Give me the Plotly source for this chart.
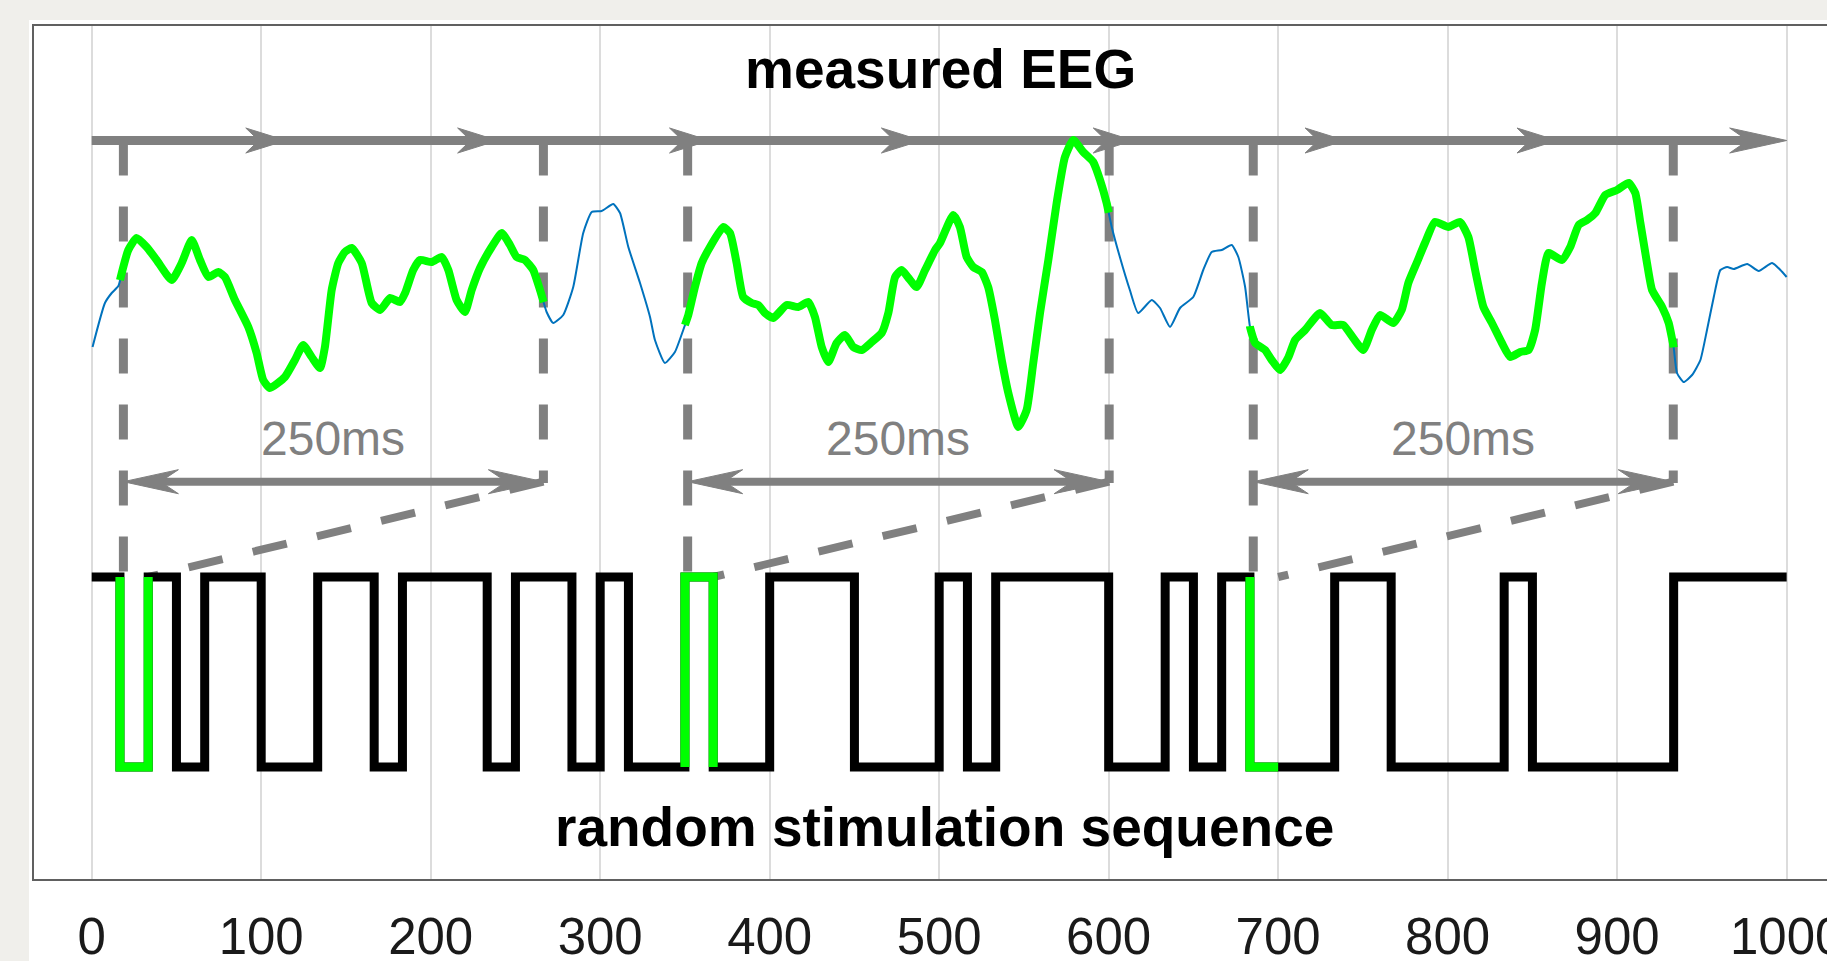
import numpy as np
import plotly.graph_objects as go

# ---------------- data ----------------
FRAME_MS = 1000 / 60  # one stimulation frame (60 Hz)

# random binary stimulation sequence, one value per frame (1 = high, 0 = low)
stim_frames = [1, 0, 1, 0, 1, 1, 0, 0, 1, 1,
               0, 1, 1, 1, 0, 1, 1, 0, 1, 0,
               0, 1, 0, 0, 1, 1, 1, 0, 0, 0,
               1, 0, 1, 1, 1, 1, 0, 0, 1, 0,
               1, 0, 0, 0, 1, 1, 0, 0, 0, 0,
               1, 0, 0, 0, 0, 0, 1, 1, 1, 1]

# measured EEG trace (time in ms, amplitude in arbitrary units)
eeg_t = [0.5, 7.8, 11.8, 15.7, 21.6, 26.5, 32.4, 38.3, 47.2, 53.1,
         59.0, 63.9, 68.8, 74.7, 78.6, 84.5, 92.4, 97.3, 101.2, 105.2,
         114.0, 119.9, 124.8, 129.8, 134.7, 137.6, 141.6, 145.5, 149.4, 153.4,
         159.3, 165.2, 170.2, 176.1, 181.9, 184.9, 189.7, 193.7, 200.6, 206.5,
         210.4, 215.3, 220.2, 224.2, 229.1, 236.0, 241.9, 246.8, 250.7, 255.6,
         260.5, 264.5, 268.4, 272.3, 278.2, 284.1, 290.0, 295.0, 300.9, 307.7,
         311.7, 316.6, 323.5, 329.4, 332.3, 338.2, 344.1, 349.0, 352.0, 355.9,
         359.9, 364.8, 372.6, 376.6, 380.5, 384.4, 389.4, 393.3, 397.2, 402.1,
         410.0, 416.9, 422.8, 426.7, 430.7, 434.6, 439.5, 444.4, 449.3, 454.3,
         460.2, 466.1, 470.0, 474.0, 477.9, 481.9, 486.7, 491.7, 497.6, 500.5,
         508.3, 512.2, 516.2, 520.1, 525.1, 528.9, 532.9, 536.9, 540.8, 546.7,
         551.6, 555.5, 559.5, 564.4, 569.3, 574.2, 579.1, 585.0, 590.9, 594.9,
         598.8, 601.8, 606.6, 612.5, 617.4, 625.4, 630.3, 636.2, 642.1, 649.9,
         655.8, 660.8, 666.7, 672.6, 676.5, 680.5, 683.4, 686.4, 692.3, 696.2,
         701.2, 706.1, 710.0, 715.9, 724.7, 731.6, 738.4, 744.3, 750.2, 755.2,
         760.1, 767.9, 772.9, 776.8, 781.7, 786.6, 792.5, 800.4, 807.3, 812.2,
         816.2, 821.1, 826.1, 832.0, 836.9, 842.8, 847.7, 851.6, 855.6, 859.5,
         867.4, 872.3, 877.3, 882.2, 887.1, 893.0, 899.9, 906.8, 910.7, 913.7,
         917.6, 920.6, 926.5, 930.4, 933.3, 935.3, 939.2, 944.2, 949.1, 953.0,
         957.0, 960.9, 964.9, 968.8, 976.7, 983.5, 991.4, 996.3, 1000.0]
eeg_v = [53.2, 57.6, 58.6, 59.3, 62.9, 64.1, 63.2, 61.9, 59.9, 61.6,
         63.9, 61.9, 60.2, 60.7, 60.2, 57.9, 55.2, 52.6, 49.9, 49.1,
         50.2, 51.9, 53.4, 52.2, 51.1, 53.2, 58.9, 61.6, 62.7, 63.1,
         61.6, 57.6, 56.9, 58.1, 57.7, 58.6, 60.9, 61.9, 61.7, 62.2,
         60.9, 57.9, 56.7, 58.9, 61.1, 63.2, 64.6, 63.4, 62.2, 61.9,
         60.9, 58.9, 56.7, 55.6, 56.4, 59.2, 64.6, 66.7, 66.8, 67.5,
         66.6, 63.2, 59.6, 56.2, 53.9, 51.6, 52.7, 54.9, 56.4, 59.2,
         61.6, 63.2, 65.2, 64.6, 61.6, 58.2, 57.6, 57.4, 56.6, 56.1,
         57.4, 57.2, 57.7, 56.2, 53.2, 51.7, 53.6, 54.4, 53.2, 52.9,
         53.7, 54.6, 56.6, 60.2, 60.9, 60.1, 59.2, 60.9, 62.9, 63.6,
         66.4, 65.2, 62.2, 61.2, 60.7, 59.2, 55.9, 51.9, 48.6, 45.2,
         46.9, 51.6, 56.6, 61.9, 67.6, 72.2, 73.9, 72.7, 71.7, 69.9,
         67.6, 65.2, 62.2, 58.9, 56.6, 57.9, 57.1, 55.2, 57.1, 58.2,
         60.9, 62.7, 62.9, 63.4, 62.2, 59.2, 55.2, 53.6, 52.9, 51.9,
         50.9, 52.2, 53.9, 54.9, 56.6, 55.4, 55.4, 54.1, 52.9, 54.9,
         56.4, 55.6, 56.9, 59.6, 61.6, 63.6, 65.7, 65.2, 65.7, 64.2,
         60.9, 57.2, 55.6, 53.6, 52.2, 52.7, 52.9, 54.9, 59.6, 62.6,
         61.9, 63.2, 65.4, 65.9, 66.6, 68.4, 68.9, 69.6, 68.6, 65.6,
         61.6, 58.9, 57.2, 55.6, 53.2, 50.6, 49.7, 50.4, 51.9, 54.9,
         58.2, 60.9, 61.2, 61.0, 61.5, 60.8, 61.6, 60.9, 60.2]

window_frames = [1, 21, 41]        # frame index where each 250 ms window starts
window_len_ms = 250
marker_starts = [18.7, 351.6, 685.3]   # dashed window-start markers (ms)
marker_ends = [266.5, 600.3, 933.1]    # dashed window-end markers (ms)
arrow_tips = [114.5, 239.5, 364.5, 489.5, 614.5, 739.5, 864.5]
arrow_end = 1000.0
x_ticks = list(range(0, 1001, 100))

title_top = "measured EEG"
title_bottom = "random stimulation sequence"
span_label = "250ms"

# ---------------- geometry / style ----------------
W, H = 1827, 961
ML, MR, MT, MB = 34, 0, 26, 82
X_RANGE = [-34.04, 1023.8]
Y_RANGE = [0.0, 85.3]
PX_X = (W - ML - MR) / (X_RANGE[1] - X_RANGE[0])
PX_Y = (H - MT - MB) / (Y_RANGE[1] - Y_RANGE[0])

LEVEL_HIGH = 30.2
LEVEL_LOW = 11.2
TOP_ARROW_Y = 73.85
SPAN_ARROW_Y = 39.73
END_MARK_BOTTOM = 39.6

GRAY = "#808080"
GREEN = "#00ff00"
BLUE = "#0072bd"
PAGE_BG = "#f0efeb"
FONT = "Liberation Sans, Arial, sans-serif"


def level(v):
    return LEVEL_HIGH if v else LEVEL_LOW


def head(xt, yt, d, L, Wd, notch):
    """arrowhead polygon (sizes in px) converted to data units"""
    xs = [xt, xt - d * L / PX_X, xt - d * (L - notch) / PX_X, xt - d * L / PX_X, xt, None]
    ys = [yt, yt + Wd / PX_Y, yt, yt - Wd / PX_Y, yt, None]
    return xs, ys


fig = go.Figure()

# --- top time arrow ---
fig.add_trace(go.Scatter(x=[0, arrow_end - 20 / PX_X], y=[TOP_ARROW_Y, TOP_ARROW_Y],
                         mode="lines", line=dict(color=GRAY, width=9), hoverinfo="skip"))
hx, hy = [], []
for t in arrow_tips:
    a, b = head(t, TOP_ARROW_Y, 1, 40, 12.5, 13)
    hx += a
    hy += b
a, b = head(arrow_end, TOP_ARROW_Y, 1, 57, 12.5, 18)
hx += a
hy += b
fig.add_trace(go.Scatter(x=hx, y=hy, mode="lines", fill="toself", fillcolor=GRAY,
                         line=dict(color=GRAY, width=1), hoverinfo="skip"))

# --- dashed window markers ---
for xs in marker_starts:
    fig.add_trace(go.Scatter(x=[xs, xs], y=[TOP_ARROW_Y, LEVEL_HIGH], mode="lines",
                             line=dict(color=GRAY, width=9, dash="35px,31px"), hoverinfo="skip"))
for xe in marker_ends:
    fig.add_trace(go.Scatter(x=[xe, xe], y=[TOP_ARROW_Y, END_MARK_BOTTOM], mode="lines",
                             line=dict(color=GRAY, width=9, dash="35px,31px"), hoverinfo="skip"))

# --- diagonal dashed links and 250 ms span arrows ---
bx, by = [], []
for k, xs, xe in zip(window_frames, marker_starts, marker_ends):
    x_stim_end = (k + 1) * FRAME_MS
    fig.add_trace(go.Scatter(x=[xe, x_stim_end], y=[SPAN_ARROW_Y, LEVEL_HIGH], mode="lines",
                             line=dict(color=GRAY, width=8, dash="35px,31px"), hoverinfo="skip"))
    fig.add_trace(go.Scatter(x=[xs + 20 / PX_X, xe - 20 / PX_X], y=[SPAN_ARROW_Y, SPAN_ARROW_Y],
                             mode="lines", line=dict(color=GRAY, width=8), hoverinfo="skip"))
    a, b = head(xs, SPAN_ARROW_Y, -1, 55, 12, 18)
    bx += a
    by += b
    a, b = head(xe, SPAN_ARROW_Y, 1, 55, 12, 18)
    bx += a
    by += b
fig.add_trace(go.Scatter(x=bx, y=by, mode="lines", fill="toself", fillcolor=GRAY,
                         line=dict(color=GRAY, width=1), hoverinfo="skip"))

# --- EEG ---
fig.add_trace(go.Scatter(x=eeg_t, y=eeg_v, mode="lines",
                         line=dict(color=BLUE, width=2, shape="spline", smoothing=0.5),
                         hoverinfo="skip"))
t_arr = np.array(eeg_t)
v_arr = np.array(eeg_v)
for k in window_frames:
    ws = k * FRAME_MS
    we = ws + window_len_ms
    inner = t_arr[(t_arr > ws) & (t_arr < we)]
    gx = np.concatenate([[ws], inner, [we]])
    gy = np.interp(gx, t_arr, v_arr)
    fig.add_trace(go.Scatter(x=gx, y=gy, mode="lines",
                             line=dict(color=GREEN, width=8, shape="spline", smoothing=0.5),
                             hoverinfo="skip"))

# --- stimulation sequence ---
sx, sy = [], []
for i, v in enumerate(stim_frames):
    sx += [i * FRAME_MS, (i + 1) * FRAME_MS]
    sy += [level(v), level(v)]
fig.add_trace(go.Scatter(x=sx, y=sy, mode="lines", line=dict(color="black", width=9),
                         hoverinfo="skip"))
for k in window_frames:
    gx = [k * FRAME_MS, k * FRAME_MS, (k + 1) * FRAME_MS, (k + 1) * FRAME_MS]
    gy = [level(stim_frames[k - 1]), level(stim_frames[k]), level(stim_frames[k]),
          level(stim_frames[k + 1])]
    fig.add_trace(go.Scatter(x=gx, y=gy, mode="lines", line=dict(color=GREEN, width=9),
                             hoverinfo="skip"))

# --- text ---
annos = [
    dict(x=501, y=80.98, text=f"<b>{title_top}</b>", font=dict(size=55, color="black", family=FONT)),
    dict(x=503, y=5.16, text=f"<b>{title_bottom}</b>", font=dict(size=55, color="black", family=FONT)),
]
for xs, xe in zip(marker_starts, marker_ends):
    annos.append(dict(x=(xs + xe) / 2, y=44.07, text=span_label,
                      font=dict(size=48, color=GRAY, family=FONT)))
for a in annos:
    a.update(xref="x", yref="y", showarrow=False, xanchor="center", yanchor="middle")

fig.update_layout(
    width=W, height=H,
    margin=dict(l=ML, r=MR, t=MT, b=MB, pad=0, autoexpand=False),
    paper_bgcolor=PAGE_BG,
    plot_bgcolor="white",
    showlegend=False,
    annotations=annos,
    shapes=[dict(type="rect", xref="paper", yref="paper",
                 x0=(29 - ML) / (W - ML - MR), x1=1.2,
                 y0=-0.2, y1=1 + (MT - 20) / (H - MT - MB),
                 fillcolor="white", line=dict(width=0), layer="below")],
)
fig.update_xaxes(range=X_RANGE, tickvals=x_ticks, ticktext=[str(v) for v in x_ticks],
                 showgrid=True, gridcolor="#dcdcdc", gridwidth=1.5, zeroline=False,
                 showline=True, mirror=True, linecolor="#606060", linewidth=2,
                 ticks="", ticklabelstandoff=12, automargin=False,
                 ticklabeloverflow="allow",
                 tickfont=dict(size=51, color="#1a1a1a", family=FONT))
fig.update_yaxes(range=Y_RANGE, showgrid=False, zeroline=False, showticklabels=False,
                 showline=True, mirror=False, linecolor="#606060", linewidth=2, ticks="",
                 automargin=False)

fig.write_html(
    "out.html",
    config={"displayModeBar": False},
    post_script=("document.body.style.margin='0';"
                 f"document.body.style.background='{PAGE_BG}';"
                 "document.body.style.overflow='hidden';"
                 "document.documentElement.style.overflow='hidden';"),
)
